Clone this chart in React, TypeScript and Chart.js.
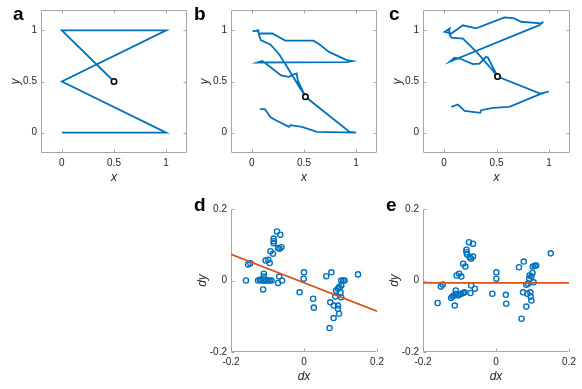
import React, { useEffect, useRef } from "react";
import { Chart, registerables } from "chart.js";

Chart.register(...registerables);

const PAGE_W = 582;
const PAGE_H = 389;
const FONT = "'Liberation Sans', Arial, Helvetica, sans-serif";
const BLUE = "#0072BD";
const ORANGE = "#D95319";
const AXIS = "#a6a6a6";
const TEXT = "#262626";

// ---------- tick definitions ----------
const trajTicks = [0, 0.5, 1];
const trajTickLabels = ["0", "0.5", "1"];
const diffTicks = [-0.2, 0, 0.2];
const diffTickLabels = ["-0.2", "0", "0.2"];

// ---------- panel a: ideal trajectory ----------
const pathAX = [0.5, 0, 1, 0, 1, 0];
const pathAY = [0.5, 1, 1, 0.5, 0, 0];

// ---------- panel b: drawn trajectory ----------
const pathBX = [0.514, 0.435, 0.34, 0.26, 0.18, 0.086, 0.07, 0.063, 0.006, 0.054, 0.07, 0.086, 0.197, 0.32, 0.59, 0.64, 0.74, 0.91, 0.965, 0.91, 0.054, 0.1, 0.18, 0.28, 0.355, 0.4, 0.43, 0.44, 0.514, 0.937, 1.0, 0.625, 0.48, 0.37, 0.356, 0.23, 0.18, 0.124, 0.076];
const pathBY = [0.35, 0.48, 0.64, 0.77, 0.86, 0.905, 0.95, 1.0, 0.99, 1.0, 0.96, 0.97, 0.97, 0.9, 0.9, 0.87, 0.79, 0.71, 0.7, 0.69, 0.686, 0.7, 0.64, 0.56, 0.545, 0.57, 0.58, 0.51, 0.35, 0.007, 0.0, 0.007, 0.056, 0.072, 0.056, 0.12, 0.15, 0.23, 0.23];

// ---------- panel c: corrected trajectory ----------
const pathCX = [0.51, 0.434, 0.323, 0.18, 0.07, 0.047, 0.054, 0.006, 0.07, 0.18, 0.307, 0.576, 0.67, 0.734, 0.924, 0.946, 0.908, 0.054, 0.1, 0.149, 0.275, 0.339, 0.4, 0.418, 0.51, 0.915, 0.997, 0.915, 0.623, 0.465, 0.354, 0.345, 0.196, 0.133, 0.07];
const pathCY = [0.549, 0.644, 0.775, 0.92, 0.93, 0.977, 1.02, 0.987, 0.97, 1.05, 1.02, 1.127, 1.118, 1.085, 1.069, 1.085, 1.052, 0.693, 0.732, 0.725, 0.67, 0.676, 0.742, 0.735, 0.549, 0.382, 0.402, 0.376, 0.252, 0.242, 0.219, 0.193, 0.212, 0.275, 0.252];

// ---------- panel d: displacement scatter (before) ----------
const scatterDX = [-0.159, -0.153, -0.147, -0.126, -0.121, -0.117, -0.112, -0.11, -0.11, -0.112, -0.1075, -0.103, -0.098, -0.094, -0.089, -0.105, -0.098, -0.094, -0.092, -0.085, -0.083, -0.083, -0.083, -0.074, -0.065, -0.071, -0.067, -0.062, -0.068, -0.071, -0.06, -0.012, 0.0, -0.001, 0.025, 0.027, 0.061, 0.075, 0.07, 0.072, 0.081, 0.082, 0.086, 0.088, 0.093, 0.096, 0.093, 0.093, 0.096, 0.097, 0.102, 0.1, 0.102, 0.107, 0.111, 0.102, 0.148];
const scatterDY = [0.0, 0.045, 0.048, 0.0, 0.002, 0.0, 0.0, 0.019, 0.011, -0.025, 0.0, 0.0, 0.0, 0.0, 0.0, 0.056, 0.058, 0.049, 0.082, 0.075, 0.117, 0.11, 0.104, 0.137, 0.128, 0.091, 0.089, 0.093, 0.011, -0.007, 0.0, -0.033, 0.023, 0.005, -0.051, -0.076, 0.012, 0.023, -0.133, -0.061, -0.105, -0.07, -0.045, -0.028, -0.023, -0.019, -0.07, -0.079, -0.093, -0.019, -0.047, -0.033, 0.0, 0.0, 0.0, -0.014, 0.017];
const fitDX = [-0.2, 0.2];
const fitDY = [0.073, -0.086];

// ---------- panel e: displacement scatter (after) ----------
const scatterEX = [-0.16, -0.151, -0.146, -0.123, -0.119, -0.116, -0.11, -0.11, -0.113, -0.104, -0.1, -0.095, -0.09, -0.086, -0.108, -0.101, -0.095, -0.09, -0.084, -0.081, -0.081, -0.079, -0.074, -0.063, -0.072, -0.068, -0.063, -0.07, -0.068, -0.058, -0.01, 0.001, 0.001, 0.027, 0.028, 0.063, 0.076, 0.07, 0.074, 0.083, 0.083, 0.086, 0.088, 0.091, 0.092, 0.094, 0.095, 0.097, 0.097, 0.1, 0.103, 0.101, 0.106, 0.11, 0.15];
const scatterEY = [-0.063, -0.017, -0.011, -0.049, -0.045, -0.042, -0.028, -0.037, -0.07, -0.042, -0.039, -0.037, -0.035, -0.033, 0.014, 0.019, 0.011, 0.047, 0.039, 0.086, 0.079, 0.073, 0.107, 0.103, 0.065, 0.061, 0.067, -0.035, -0.014, -0.023, -0.037, 0.023, 0.005, -0.04, -0.065, 0.037, 0.053, -0.107, -0.033, -0.073, -0.012, -0.037, -0.009, 0.005, 0.014, -0.033, -0.045, -0.056, 0.011, 0.021, -0.005, 0.039, 0.041, 0.042, 0.076];
const fitEX = [-0.2, 0.2];
const fitEY = [-0.0065, -0.0065];

const toPoints = (xs: number[], ys: number[]) => xs.map((x, i) => ({ x, y: ys[i] }));

type Panel = {
  letter: string;
  letterX: number;
  letterY: number;
  l: number; t: number; r: number; b: number;
  yTitleX: number;
  xTitleY: number;
  box: boolean;
  min: number; max: number;
  ticks: number[];
  tickLabels: string[];
  xTitle: string;
  yTitle: string;
  datasets: any[];
};

const trajDatasets = (xs: number[], ys: number[]) => [
  {
    data: [{ x: xs[0], y: ys[0] }],
    showLine: false,
    pointRadius: 2.7,
    pointBorderWidth: 1.6,
    pointBorderColor: "#000",
    pointBackgroundColor: "#fff",
  },
  {
    data: toPoints(xs, ys),
    showLine: true,
    borderColor: BLUE,
    borderWidth: 1.8,
    pointRadius: 0,
    tension: 0,
    fill: false,
  },
];

const scatterDatasets = (xs: number[], ys: number[], fx: number[], fy: number[]) => [
  {
    data: toPoints(fx, fy),
    showLine: true,
    borderColor: ORANGE,
    borderWidth: 1.8,
    pointRadius: 0,
    tension: 0,
    fill: false,
  },
  {
    data: toPoints(xs, ys),
    showLine: false,
    pointRadius: 2.6,
    pointBorderWidth: 1.4,
    pointBorderColor: BLUE,
    pointBackgroundColor: "rgba(0,0,0,0)",
  },
];

const panels: Panel[] = [
  { letter: "a", letterX: 13, letterY: 19.5, l: 41, t: 10, r: 187, b: 153, yTitleX: 15.5, xTitleY: 178, box: true, min: -0.2, max: 1.2, ticks: trajTicks, tickLabels: trajTickLabels, xTitle: "x", yTitle: "y", datasets: trajDatasets(pathAX, pathAY) },
  { letter: "b", letterX: 194, letterY: 19.5, l: 231, t: 10, r: 377, b: 153, yTitleX: 205, xTitleY: 178, box: true, min: -0.2, max: 1.2, ticks: trajTicks, tickLabels: trajTickLabels, xTitle: "x", yTitle: "y", datasets: trajDatasets(pathBX, pathBY) },
  { letter: "c", letterX: 389, letterY: 19.5, l: 423, t: 10, r: 570, b: 153, yTitleX: 398, xTitleY: 178, box: true, min: -0.2, max: 1.2, ticks: trajTicks, tickLabels: trajTickLabels, xTitle: "x", yTitle: "y", datasets: trajDatasets(pathCX, pathCY) },
  { letter: "d", letterX: 194, letterY: 210.5, l: 231, t: 209, r: 377, b: 352, yTitleX: 203, xTitleY: 377, box: false, min: -0.2, max: 0.2, ticks: diffTicks, tickLabels: diffTickLabels, xTitle: "dx", yTitle: "dy", datasets: scatterDatasets(scatterDX, scatterDY, fitDX, fitDY) },
  { letter: "e", letterX: 386, letterY: 210.5, l: 423, t: 209, r: 569, b: 352, yTitleX: 395, xTitleY: 377, box: false, min: -0.2, max: 0.2, ticks: diffTicks, tickLabels: diffTickLabels, xTitle: "dx", yTitle: "dy", datasets: scatterDatasets(scatterEX, scatterEY, fitEX, fitEY) },
];

const TITLE_SIZE = 12;
const TITLE_LH = 1.2;

const framePlugin = {
  id: "frame",
  beforeDatasetsDraw(chart: any, _args: any, opts: any) {
    const { ctx, chartArea } = chart;
    const { left, top, right, bottom } = chartArea;
    const xs = chart.scales.x;
    const ys = chart.scales.y;
    const tl = 3;
    ctx.save();
    ctx.strokeStyle = AXIS;
    ctx.lineWidth = 1;
    ctx.beginPath();
    const L = Math.round(left) + 0.5;
    const B = Math.round(bottom) - 0.5;
    const T = Math.round(top) + 0.5;
    const R = Math.round(right) - 0.5;
    ctx.moveTo(L, T);
    ctx.lineTo(L, B);
    ctx.lineTo(R, B);
    if (opts.box) {
      ctx.lineTo(R, T);
      ctx.lineTo(L, T);
    }
    for (const v of opts.ticks) {
      const px = Math.round(xs.getPixelForValue(v)) + 0.5;
      ctx.moveTo(px, B);
      ctx.lineTo(px, B - tl);
      if (opts.box) {
        ctx.moveTo(px, T);
        ctx.lineTo(px, T + tl);
      }
      const py = Math.round(ys.getPixelForValue(v)) + 0.5;
      ctx.moveTo(L, py);
      ctx.lineTo(L + tl, py);
      if (opts.box) {
        ctx.moveTo(R, py);
        ctx.lineTo(R - tl, py);
      }
    }
    ctx.stroke();
    ctx.restore();
  },
  afterDraw(chart: any, _args: any, opts: any) {
    const { ctx } = chart;
    ctx.save();
    ctx.fillStyle = "#000";
    ctx.font = `bold 19px ${FONT}`;
    ctx.textBaseline = "alphabetic";
    ctx.textAlign = "left";
    ctx.fillText(opts.letter, opts.letterX, opts.letterY);
    ctx.restore();
  },
};

function buildConfig(p: Panel): any {
  const half = (TITLE_SIZE * TITLE_LH) / 2;
  const yW = p.l - (p.yTitleX - half);
  const xH = p.xTitleY + half - p.b;
  const tickFont = { family: FONT, size: 10 };
  const titleFont = { family: FONT, size: TITLE_SIZE, style: "italic" as const, lineHeight: TITLE_LH };
  const axis = (isX: boolean, title: string) => ({
    type: "linear",
    position: isX ? "bottom" : "left",
    min: p.min,
    max: p.max,
    grid: { display: false, drawTicks: false },
    border: { display: false },
    afterBuildTicks: (scale: any) => {
      scale.ticks = p.ticks.map((v) => ({ value: v }));
    },
    afterFit: (scale: any) => {
      if (isX) scale.height = xH;
      else scale.width = yW;
    },
    ticks: {
      font: tickFont,
      color: TEXT,
      padding: 4,
      maxRotation: 0,
      autoSkip: false,
      callback: (_v: any, i: number) => p.tickLabels[i],
    },
    title: {
      display: true,
      text: title,
      color: TEXT,
      font: titleFont,
      padding: { top: 0, bottom: 0 },
    },
  });
  return {
    type: "scatter",
    data: { datasets: p.datasets },
    plugins: [framePlugin],
    options: {
      animation: false,
      responsive: false,
      maintainAspectRatio: false,
      devicePixelRatio: 1,
      events: [],
      layout: {
        padding: {
          left: p.l - yW,
          top: p.t,
          right: PAGE_W - p.r,
          bottom: PAGE_H - p.b - xH,
        },
      },
      scales: { x: axis(true, p.xTitle), y: axis(false, p.yTitle) },
      plugins: {
        legend: { display: false },
        tooltip: { enabled: false },
        title: { display: false },
        frame: { box: p.box, ticks: p.ticks, letter: p.letter, letterX: p.letterX, letterY: p.letterY },
      },
    },
  };
}

function PanelChart({ panel }: { panel: Panel }) {
  const ref = useRef<HTMLCanvasElement | null>(null);
  useEffect(() => {
    if (!ref.current) return;
    const chart = new Chart(ref.current, buildConfig(panel));
    return () => chart.destroy();
  }, [panel]);
  return (
    <canvas
      ref={ref}
      width={PAGE_W}
      height={PAGE_H}
      style={{ position: "absolute", left: 0, top: 0, width: PAGE_W, height: PAGE_H }}
    />
  );
}

export default function App() {
  return (
    <div
      style={{
        position: "absolute",
        left: 0,
        top: 0,
        width: PAGE_W,
        height: PAGE_H,
        background: "#fff",
        overflow: "hidden",
      }}
    >
      {panels.map((p) => (
        <PanelChart key={p.letter} panel={p} />
      ))}
    </div>
  );
}
